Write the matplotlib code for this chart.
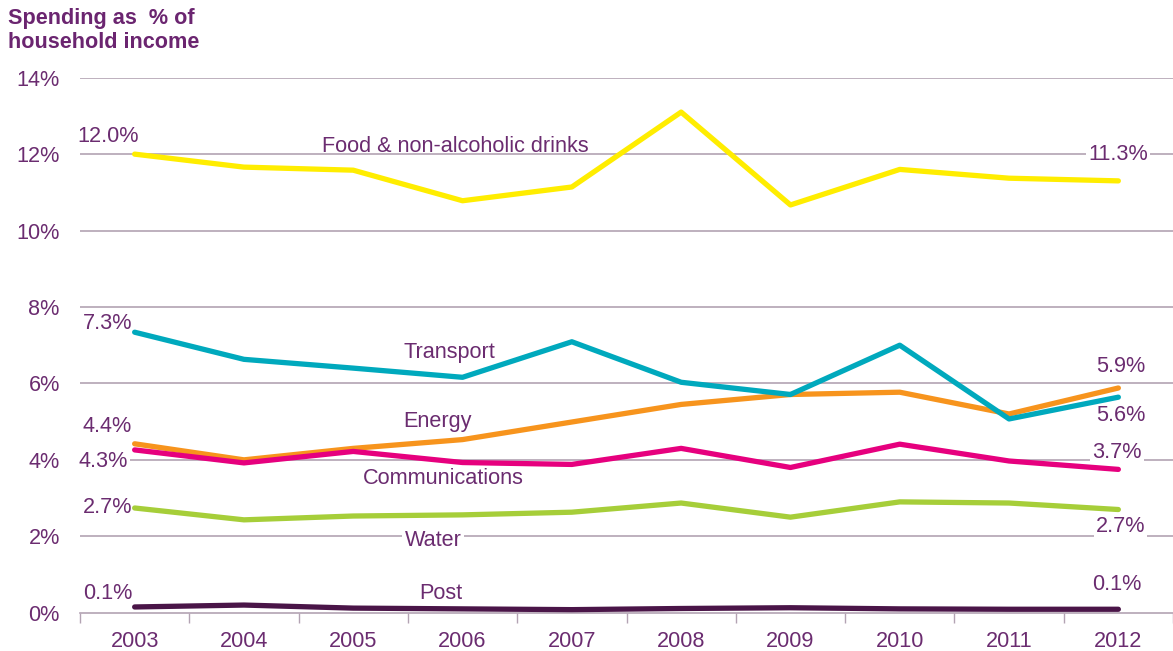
import matplotlib
matplotlib.use("Agg")
import matplotlib.pyplot as plt
import numpy as np

plt.rcParams['font.family'] = ['Liberation Sans', 'DejaVu Sans']

years = ['2003', '2004', '2005', '2006', '2007', '2008', '2009', '2010', '2011', '2012']

food = [12.0, 11.66, 11.58, 10.78, 11.14, 13.1, 10.67, 11.6, 11.37, 11.3]
transport = [7.34, 6.63, 6.4, 6.16, 7.09, 6.03, 5.71, 7.0, 5.07, 5.64]
energy = [4.42, 4.0, 4.3, 4.53, 4.99, 5.45, 5.71, 5.77, 5.2, 5.88]
communications = [4.26, 3.92, 4.22, 3.93, 3.88, 4.3, 3.8, 4.41, 3.97, 3.75]
water = [2.74, 2.43, 2.53, 2.56, 2.63, 2.87, 2.5, 2.9, 2.87, 2.7]
post = [0.15, 0.2, 0.12, 0.1, 0.08, 0.11, 0.13, 0.1, 0.09, 0.09]

yticks = [0, 2, 4, 6, 8, 10, 12, 14]

TEXT = '#6B2C70'
GRID = '#B3A3B3'
FS = 15.6

fig = plt.figure(figsize=(11.73, 6.51), dpi=100)
ax = fig.add_axes([80 / 1173, 1 - 612.7 / 651, 1 - 80 / 1173, (612.7 - 77.7) / 651])

x = np.arange(len(years))
lw = 3.8
series = [
    (post, '#4A1548'),
    (water, '#A6CE39'),
    (energy, '#F7941D'),
    (communications, '#E6007E'),
    (transport, '#00A9BD'),
    (food, '#FFED00'),
]
for i, (vals, col) in enumerate(series):
    ax.plot(x, vals, color=col, lw=lw, solid_capstyle='round', zorder=3 + i, clip_on=False)

ax.set_xlim(-0.5, 9.436)
ax.set_ylim(0, 14)
ax.set_yticks(yticks)
ax.set_yticklabels([f'{v}%' for v in yticks])
ax.set_xticks(x)
ax.set_xticklabels(years)
ax.set_xticks(np.arange(-0.5, 10, 1), minor=True)
ax.tick_params(axis='x', which='major', length=0, pad=13, labelsize=FS, labelcolor=TEXT)
ax.tick_params(axis='x', which='minor', length=7, width=1, color=GRID, direction='out')
ax.tick_params(axis='y', length=0, pad=14.5, labelsize=FS, labelcolor=TEXT)

for v in yticks[1:]:
    ax.axhline(v, color=GRID, lw=1.2, zorder=1)
for s in ['top', 'right', 'left']:
    ax.spines[s].set_visible(False)
ax.spines['bottom'].set_color(GRID)
ax.spines['bottom'].set_linewidth(1.2)

box = dict(facecolor='white', edgecolor='none', pad=1.5)

def label(xv, yv, s, ha='center', boxed=True):
    ax.text(xv, yv, s, color=TEXT, fontsize=FS, ha=ha, va='center',
            bbox=box if boxed else None, zorder=2)

# series names
label(2.93, 12.19, 'Food & non-alcoholic drinks', boxed=False)
label(2.88, 6.8, 'Transport')
label(2.77, 5.0, 'Energy')
label(2.82, 3.52, 'Communications')
label(2.73, 1.9, 'Water')
label(2.8, 0.5, 'Post')

# start values
label(-0.24, 12.46, '12.0%', boxed=False)
label(-0.25, 7.57, '7.3%')
label(-0.25, 4.87, '4.4%')
label(-0.29, 3.95, '4.3%')
label(-0.25, 2.74, '2.7%')
label(-0.25, 0.5, '0.1%')

# end values
label(9.0, 12.0, '11.3%')
label(9.02, 6.45, '5.9%')
label(9.02, 5.15, '5.6%')
label(8.99, 4.18, '3.7%')
label(9.02, 2.25, '2.7%')
label(8.99, 0.73, '0.1%')

TITLE = '#6B2570'
fig.text(8 / 1173, 1 - 24 / 651, 'Spending as  % of', color=TITLE,
         fontsize=FS, fontweight='bold', ha='left', va='baseline')
fig.text(8 / 1173, 1 - 48 / 651, 'household income', color=TITLE,
         fontsize=FS, fontweight='bold', ha='left', va='baseline')

fig.savefig('out.png', dpi=100)
